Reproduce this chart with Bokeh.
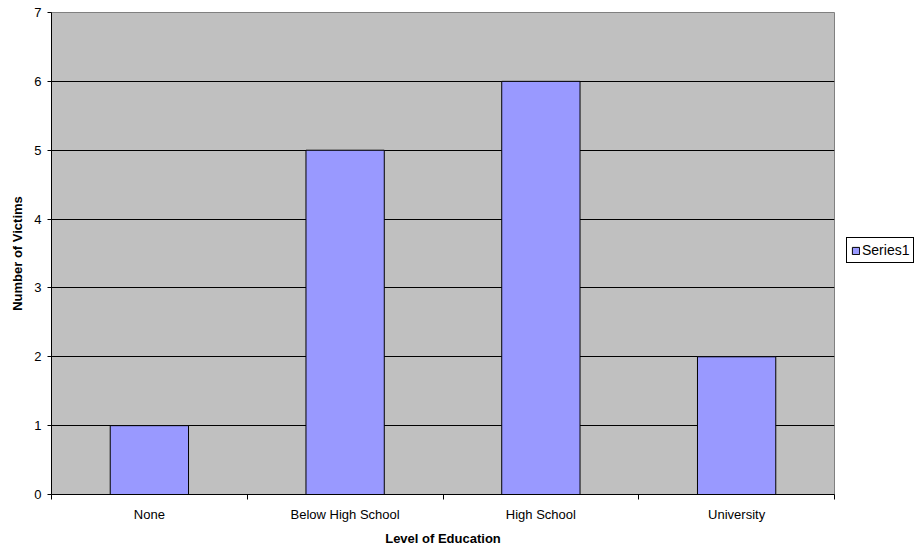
from bokeh.plotting import figure
from bokeh.layouts import row
from bokeh.models import FixedTicker, Range1d, Legend, LegendItem, ColumnDataSource
from bokeh.embed import file_html
from bokeh.resources import INLINE

categories = ["None", "Below High School", "High School", "University"]
victims = [1, 5, 6, 2]
y_ticks = [0, 1, 2, 3, 4, 5, 6, 7]
series_name = "Series1"

FONT = "Liberation Sans"
BAR_FILL = "#9999FF"

xpos = [i + 0.5 for i in range(len(categories))]
source = ColumnDataSource(data=dict(x=xpos, top=victims, cat=categories))

p = figure(width=840, height=550, output_backend="svg", toolbar_location=None,
           x_range=Range1d(0, len(categories)), y_range=Range1d(0, 7),
           min_border_left=51, min_border_right=6, min_border_top=12, min_border_bottom=56)

p.background_fill_color = "#C0C0C0"
p.border_fill_color = "white"
p.outline_line_color = "#808080"
p.outline_line_width = 1

r = p.vbar(x="x", top="top", bottom=0, width=0.4, source=source,
           fill_color=BAR_FILL, line_color="black", line_width=1)

# x axis
xa = p.xaxis[0]
xa.ticker = FixedTicker(ticks=xpos, minor_ticks=list(range(len(categories) + 1)))
xa.major_label_overrides = {x: c for x, c in zip(xpos, categories)}
xa.major_tick_out = 0
xa.major_tick_in = 0
xa.minor_tick_out = 5
xa.minor_tick_in = 0
xa.minor_tick_line_color = "black"
xa.axis_line_color = "black"
xa.major_label_text_font = FONT
xa.major_label_text_font_size = "13px"
xa.major_label_text_color = "black"
xa.major_label_standoff = 7
xa.axis_label = "Level of Education"
xa.axis_label_text_font = FONT
xa.axis_label_text_font_style = "bold"
xa.axis_label_text_font_size = "13px"
xa.axis_label_text_color = "black"
xa.axis_label_standoff = 6

# y axis
ya = p.yaxis[0]
ya.ticker = FixedTicker(ticks=y_ticks)
ya.minor_tick_line_color = None
ya.major_tick_out = 4
ya.major_tick_in = 0
ya.major_tick_line_color = "black"
ya.axis_line_color = "black"
ya.major_label_text_font = FONT
ya.major_label_text_font_size = "13px"
ya.major_label_text_color = "black"
ya.major_label_standoff = 6
ya.axis_label = "Number of Victims"
ya.axis_label_text_font = FONT
ya.axis_label_text_font_style = "bold"
ya.axis_label_text_font_size = "13px"
ya.axis_label_text_color = "black"
ya.axis_label_standoff = 6

p.xgrid.visible = False
p.ygrid.ticker = FixedTicker(ticks=y_ticks[1:-1])
p.ygrid.grid_line_color = "black"
p.ygrid.grid_line_width = 1

# legend panel (separate narrow canvas so that the legend is not clipped)
lg = figure(width=74, height=550, output_backend="svg", toolbar_location=None,
            x_range=Range1d(0, 1), y_range=Range1d(0, 1),
            x_axis_location=None, y_axis_location=None,
            min_border_left=0, min_border_right=0, min_border_top=0, min_border_bottom=0)
lg.grid.visible = False
lg.outline_line_color = None
lg.background_fill_color = "white"
lg.border_fill_color = "white"
rl = lg.vbar(x="x", top="top", bottom=0, width=0.4, source=source, visible=False,
             fill_color=BAR_FILL, line_color="black", line_width=1)

legend = Legend(items=[LegendItem(label=series_name, renderers=[rl])],
                location=(6, 231), orientation="vertical",
                glyph_width=9, glyph_height=9, label_height=12, label_standoff=2,
                padding=4, margin=0, spacing=0,
                label_text_font=FONT, label_text_font_size="14px",
                label_text_color="black",
                border_line_color="black", border_line_width=1, border_line_alpha=1,
                inactive_fill_alpha=0,
                background_fill_color="white", background_fill_alpha=1)
lg.add_layout(legend, "center")

layout = row(p, lg, spacing=0)

open("out.html", "w").write(file_html(layout, INLINE))
